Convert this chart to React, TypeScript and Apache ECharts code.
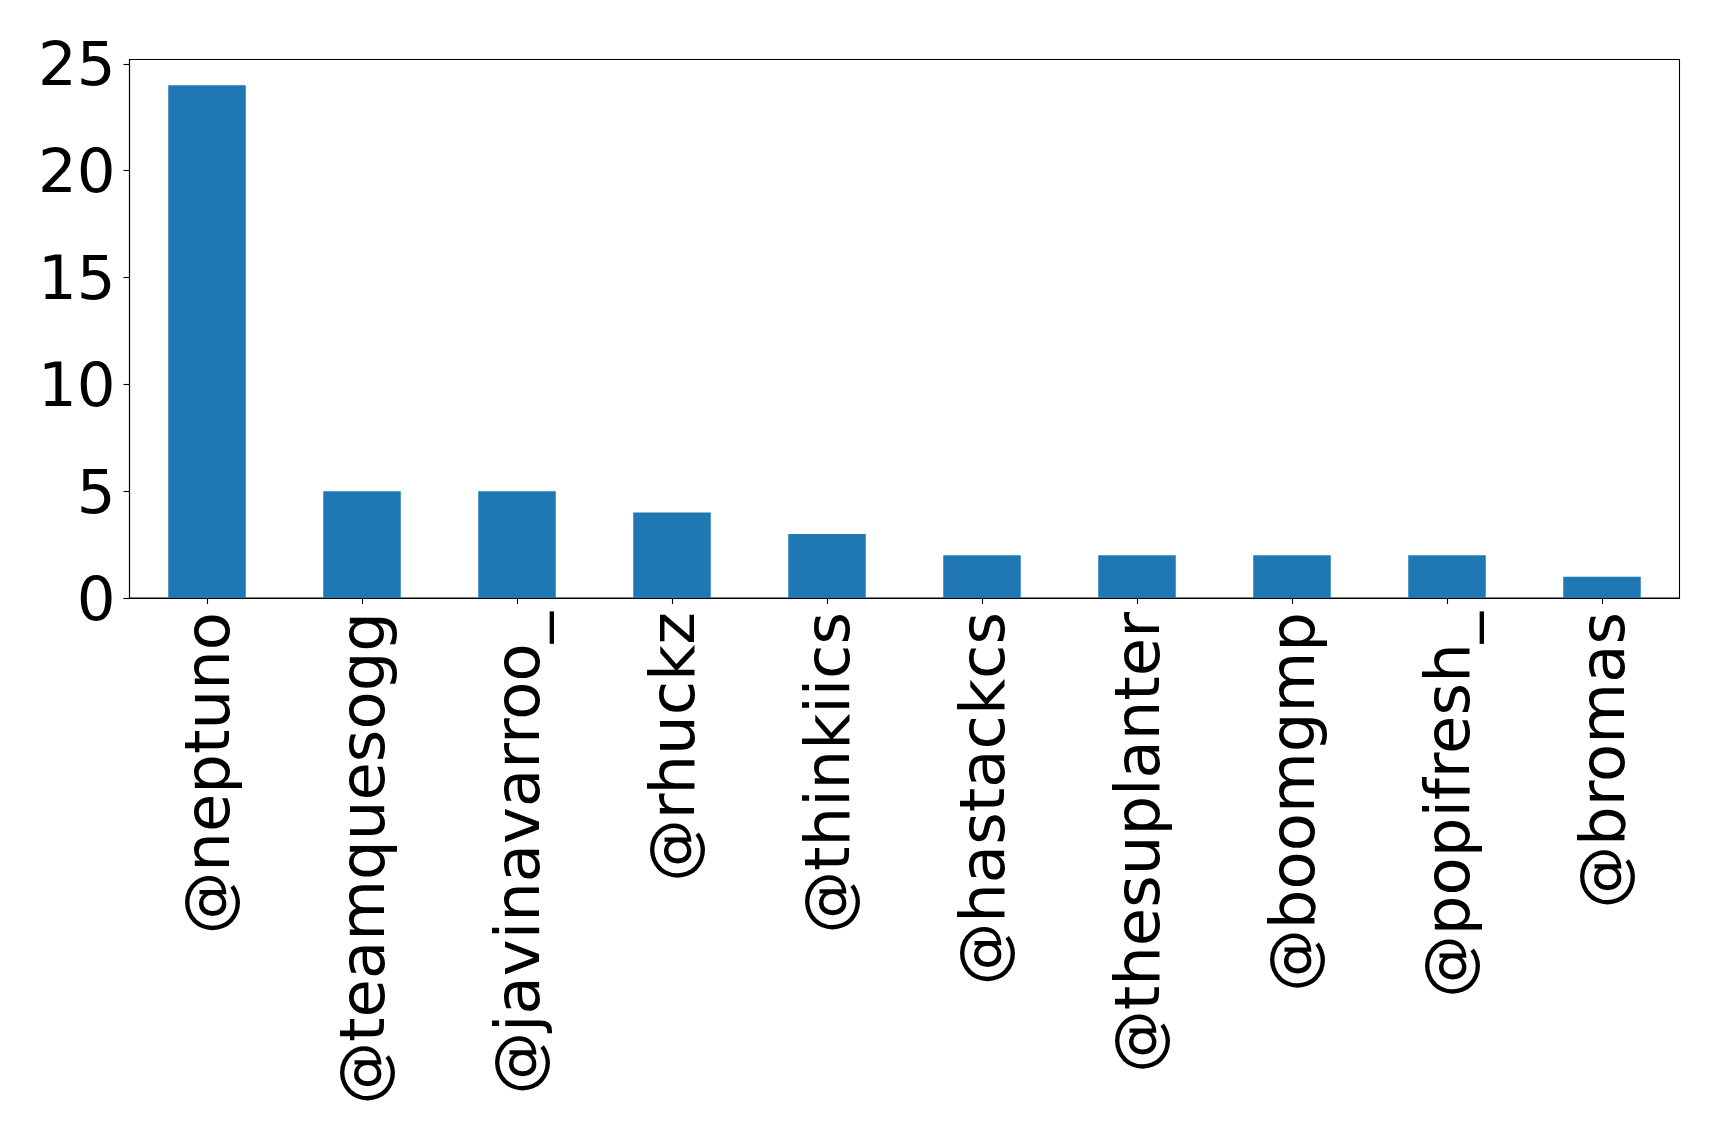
import React, { useEffect, useRef } from "react";
import * as echarts from "echarts";

const categories = [
  "@neptuno",
  "@teamquesogg",
  "@javinavarroo_",
  "@rhuckz",
  "@thinkiics",
  "@hastackcs",
  "@thesuplanter",
  "@boomgmp",
  "@popifresh_",
  "@bromas",
];
const values = [24, 5, 5, 4, 3, 2, 2, 2, 2, 1];
const yTicks = [0, 5, 10, 15, 20, 25];

export default function App() {
  const ref = useRef<HTMLDivElement>(null);
  useEffect(() => {
    document.body.style.margin = "0";
    const chart = echarts.init(ref.current!, null, { renderer: "svg" });
    const font = "DejaVu Sans";
    chart.setOption({
      animation: false,
      backgroundColor: "#ffffff",
      grid: {
        left: 129.5,
        top: 59.5,
        right: 39.5,
        bottom: 542,
        show: true,
        borderColor: "#000000",
        borderWidth: 1.1,
        backgroundColor: "transparent",
      },
      xAxis: {
        type: "category",
        data: categories,
        boundaryGap: true,
        axisLine: { show: true, lineStyle: { color: "#000000", width: 1.1 } },
        axisTick: {
          show: true,
          alignWithLabel: true,
          length: 6,
          lineStyle: { color: "#000000", width: 1.1 },
        },
        axisLabel: {
          rotate: 90,
          interval: 0,
          margin: 14,
          fontFamily: font,
          fontSize: 62.5,
          color: "#000000",
        },
        splitLine: { show: false },
      },
      yAxis: {
        type: "value",
        min: 0,
        max: 25.2,
        interval: 5,
        axisLine: { show: true, lineStyle: { color: "#000000", width: 1.1 } },
        axisTick: {
          show: true,
          length: 6,
          customValues: yTicks,
          lineStyle: { color: "#000000", width: 1.1 },
        },
        axisLabel: {
          margin: 14,
          fontFamily: font,
          fontSize: 61,
          color: "#000000",
          customValues: yTicks,
        },
        splitLine: { show: false },
      },
      series: [
        {
          type: "bar",
          data: values,
          barWidth: "50%",
          itemStyle: { color: "#1f77b4" },
        },
      ],
    });
    return () => chart.dispose();
  }, []);
  return <div ref={ref} style={{ width: 1719, height: 1140 }} />;
}
